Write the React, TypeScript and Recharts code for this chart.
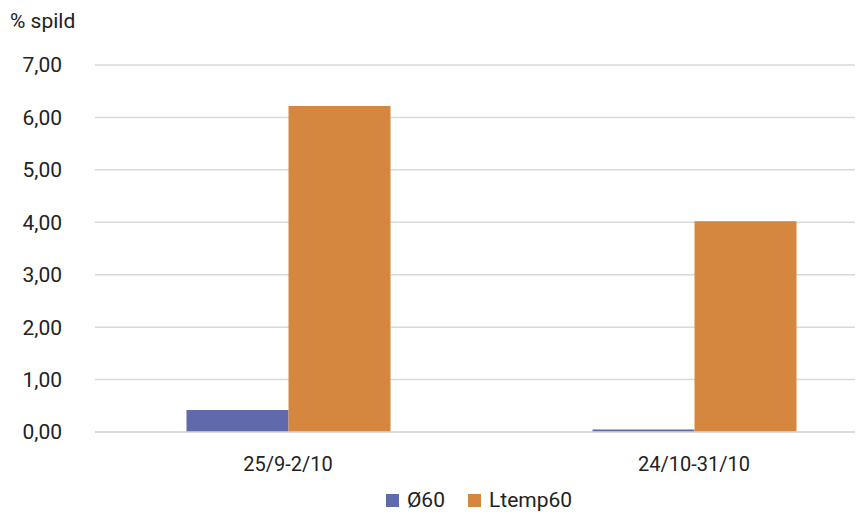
import React from 'react';
import { BarChart, Bar, XAxis, YAxis, CartesianGrid, Legend } from 'recharts';

const categories = ['25/9-2/10', '24/10-31/10'];
const o60Values = [0.42, 0.05];
const ltemp60Values = [6.22, 4.02];
const yTicks = [0, 1, 2, 3, 4, 5, 6, 7];
const seriesNames = ['Ø60', 'Ltemp60'];
const seriesColors = ['#6069AC', '#D6873F'];

const data = categories.map((c, i) => ({
  name: c,
  o60: o60Values[i],
  ltemp60: ltemp60Values[i],
}));

const FONT = 'Roboto, "Noto Sans", sans-serif';
const FS = 21;
const FSX = 20;

const renderLegend = () => (
  <div style={{ display: 'flex', justifyContent: 'center', alignItems: 'center', fontFamily: FONT, fontSize: FS, color: '#222', lineHeight: '22px' }}>
    {seriesNames.map((n, i) => (
      <div key={n} style={{ display: 'flex', alignItems: 'center', marginRight: i === 0 ? 23 : 0 }}>
        <span style={{ display: 'inline-block', width: 13, height: 13, background: seriesColors[i], marginRight: 8 }} />
        <span>{n}</span>
      </div>
    ))}
  </div>
);

export default function App() {
  return (
    <div style={{ position: 'relative', width: 855, height: 508, overflow: 'hidden', background: '#fff' }}>
      <div style={{ position: 'absolute', left: 2, top: 1, fontFamily: FONT, fontSize: FS, color: '#222', zIndex: 2 }}>% spild</div>
      <BarChart
        width={900}
        height={508}
        data={data}
        margin={{ top: 57, right: 11, bottom: 22, left: 0 }}
        barCategoryGap="25%"
        barGap={0}
      >
        <CartesianGrid vertical={false} stroke="#d9d9d9" strokeWidth={1.5} />
        <XAxis
          dataKey="name"
          padding={{ left: -10, right: 0 }}
          axisLine={{ stroke: '#d9d9d9', strokeWidth: 1.5 }}
          tickLine={false}
          tickSize={0}
          tickMargin={25}
          height={40}
          tick={{ fill: '#222', fontSize: FSX, fontFamily: FONT }}
        />
        <YAxis
          width={87}
          domain={[0, 7]}
          ticks={yTicks}
          axisLine={false}
          tickLine={false}
          tickSize={0}
          tickMargin={33}
          tickFormatter={(v: number) => v.toFixed(2).replace('.', ',')}
          tick={{ fill: '#222', fontSize: FS, fontFamily: FONT }}
        />
        <Legend
          content={renderLegend}
          height={0}
          wrapperStyle={{ position: 'absolute', left: 87, width: 768, top: 481, height: 22 }}
        />
        <Bar dataKey="o60" name={seriesNames[0]} fill={seriesColors[0]} isAnimationActive={false} />
        <Bar dataKey="ltemp60" name={seriesNames[1]} fill={seriesColors[1]} isAnimationActive={false} />
      </BarChart>
    </div>
  );
}
